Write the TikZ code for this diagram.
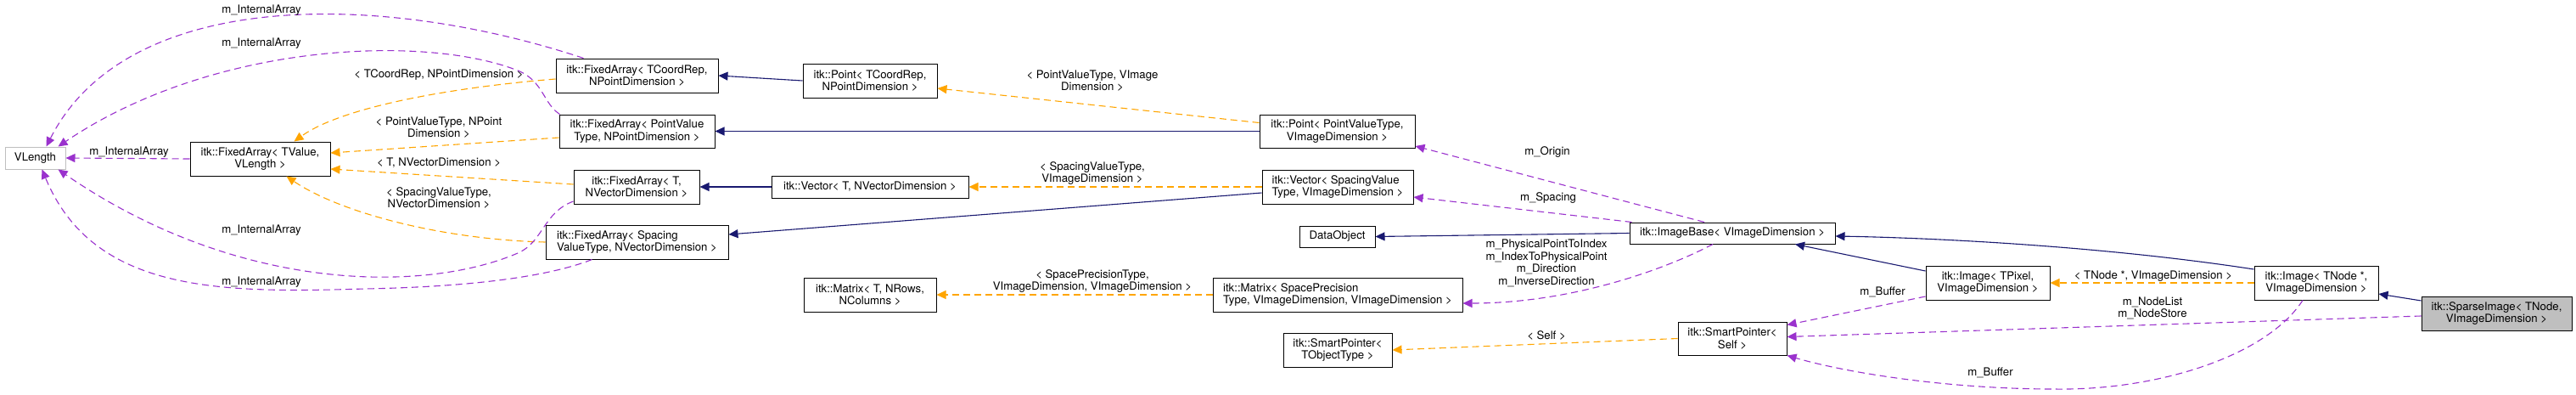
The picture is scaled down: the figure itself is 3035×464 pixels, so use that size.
\documentclass[tikz,border=0pt]{standalone}
\usepackage{fontspec}
\setmainfont{TeX Gyre Heros}
\usetikzlibrary{arrows.meta,calc}
\definecolor{member}{HTML}{9A32CD}
\definecolor{tmpl}{HTML}{FFA500}
\definecolor{inher}{HTML}{191970}
\definecolor{grayfill}{HTML}{BFBFBF}
\begin{document}
\begin{tikzpicture}[x=1pt,y=-1pt,
  cls/.style={draw=black, line width=1pt, fill=white, inner sep=0pt, align=center, font=\fontsize{13.2}{14.6}\selectfont},
  lbl/.style={inner sep=0pt, align=center, font=\fontsize{13.2}{14.6}\selectfont},
  tip/.style={-{Triangle[length=11pt,width=10pt]}},
  inh/.style={draw=inher, line width=1.1pt, tip},
  mem/.style={draw=member, line width=1.1pt, dash pattern=on 8pt off 5pt, tip},
  tpl/.style={draw=tmpl, line width=1.1pt, dash pattern=on 8pt off 5pt, tip}]
\useasboundingbox (0,0) rectangle (3035,464);
% classes
\node[cls, minimum width=71pt, minimum height=26pt, draw=grayfill] (vlen) at (41.5,186) {VLength};
\node[cls, minimum width=165pt, minimum height=40pt] (fatv) at (306.5,187) {itk::FixedArray< TValue,\\ VLength >};
\node[cls, minimum width=191pt, minimum height=40pt] (facr) at (750.5,89) {itk::FixedArray< TCoordRep,\\ NPointDimension >};
\node[cls, minimum width=183pt, minimum height=39pt] (fapv) at (750.5,154.5) {itk::FixedArray< PointValue\\ Type, NPointDimension >};
\node[cls, minimum width=148pt, minimum height=40pt] (fat) at (750,220) {itk::FixedArray< T,\\ NVectorDimension >};
\node[cls, minimum width=215pt, minimum height=40pt, align=left] (fasp) at (750.5,285) {itk::FixedArray< Spacing\\ValueType, NVectorDimension >};
\node[cls, minimum width=158pt, minimum height=40pt] (ptcr) at (1025,95) {itk::Point< TCoordRep,\\ NPointDimension >};
\node[cls, minimum width=232pt, minimum height=26pt] (vect) at (1025,220) {itk::Vector< T, NVectorDimension >};
\node[cls, minimum width=156pt, minimum height=40pt] (matt) at (1025,347) {itk::Matrix< T, NRows,\\ NColumns >};
\node[cls, minimum width=183pt, minimum height=39pt] (ptpv) at (1575.5,154.5) {itk::Point< PointValueType,\\ VImageDimension >};
\node[cls, minimum width=178pt, minimum height=40pt, align=left] (vecsv) at (1576,220) {itk::Vector< SpacingValue\\Type, VImageDimension >};
\node[cls, minimum width=89pt, minimum height=25pt] (dobj) at (1575.5,278.5) {DataObject};
\node[cls, minimum width=294pt, minimum height=40pt, align=left] (matsp) at (1576,347) {itk::Matrix< SpacePrecision\\Type, VImageDimension, VImageDimension >};
\node[cls, minimum width=128pt, minimum height=40pt] (sptto) at (1576,412) {itk::SmartPointer<\\ TObjectType >};
\node[cls, minimum width=242pt, minimum height=25pt] (ibase) at (2041,274.5) {itk::ImageBase< VImageDimension >};
\node[cls, minimum width=128pt, minimum height=39pt] (sptself) at (2041,398.5) {itk::SmartPointer<\\ Self >};
\node[cls, minimum width=146pt, minimum height=40pt] (imgpix) at (2342,333) {itk::Image< TPixel,\\ VImageDimension >};
\node[cls, minimum width=146pt, minimum height=40pt] (imgnode) at (2729,333) {itk::Image< TNode *,\\ VImageDimension >};
\node[cls, minimum width=177pt, minimum height=40pt, fill=grayfill] (sparse) at (2941.5,369) {itk::SparseImage< TNode,\\ VImageDimension >};
% inheritance
\draw[inh] (ptcr.west) -- (facr.east);
\draw[inh] (ptpv.west) -- (fapv.east);
\draw[inh] (vect.west) -- (fat.east);
\draw[inh] ($(vecsv.west)+(0,7)$) -- ($(fasp.east)+(0,-9)$);
\draw[inh] (ibase.west) -- (dobj.east);
\draw[inh] ($(imgpix.west)+(0,-14)$) -- ($(ibase.south)+(74,0)$);
\draw[inh] ($(imgnode.west)+(0,-16)$) .. controls (2480,290) and (2280,280) .. ($(ibase.east)+(0,3.5)$);
\draw[inh] ($(sparse.west)+(0,-15)$) -- ($(imgnode.east)+(0,13)$);
% template instantiation
\draw[tpl] ($(facr.west)+(0,4)$) .. controls (520,104) and (400,128) .. ($(fatv.north)+(40,0)$);
\draw[tpl] ($(fapv.west)+(0,7.5)$) -- ($(fatv.east)+(0,-7)$);
\draw[tpl] ($(fat.west)+(0,-3)$) -- ($(fatv.east)+(0,12)$);
\draw[tpl] (fasp.west) .. controls (520,282) and (400,250) .. ($(fatv.south)+(31,0)$);
\draw[tpl] ($(ptpv.west)+(0,-10)$) -- ($(ptcr.east)+(0,9)$);
\draw[tpl] (vecsv.west) -- (vect.east);
\draw[tpl] (matsp.west) -- (matt.east);
\draw[tpl] (sptself.west) -- (sptto.east);
\draw[tpl] (imgnode.west) -- (imgpix.east);
% members
\draw[mem] ($(facr.north)+(-63,0)$) .. controls (450,-10) and (150,-15) .. ($(vlen.north)+(13,0)$);
\draw[mem] ($(fapv.north west)+(1,0)$) .. controls (640,122) and (640,95) .. (610,83) .. controls (500,40) and (250,50) .. ($(vlen.north)+(27,0)$);
\draw[mem] (fatv.west) -- (vlen.east);
\draw[mem] ($(fat.west)+(0,17)$) .. controls (640,250) and (640,285) .. (610,298) .. controls (500,345) and (280,345) .. ($(vlen.south)+(27,0)$);
\draw[mem] ($(fasp.south)+(-53,0)$) .. controls (640,328) and (540,338) .. (430,340) .. controls (260,345) and (110,345) .. ($(vlen.south)+(8,0)$);
\draw[mem] ($(ibase.north)+(-33,0)$) -- ($(ptpv.east)+(0,17.5)$);
\draw[mem] ($(ibase.north west)+(3,0)$) -- ($(vecsv.east)+(0,12)$);
\draw[mem] ($(ibase.south)+(-23,0)$) .. controls (1960,318) and (1850,357) .. ($(matsp.east)+(0,10)$);
\draw[mem] ($(imgpix.west)+(0,16)$) -- ($(sptself.east)+(0,-16)$);
\draw[mem] ($(sparse.west)+(0,3)$) -- ($(sptself.east)+(0,-2)$);
\draw[mem] ($(imgnode.south)+(-16,0)$) .. controls (2670,420) and (2540,460) .. (2420,458) .. controls (2300,458) and (2180,440) .. (sptself.south east);
% labels
\node[lbl] (l1) at (308,12) {m\_InternalArray};
\node[lbl] (l2) at (308,51) {m\_InternalArray};
\node[lbl] (l3) at (152,179) {m\_InternalArray};
\node[lbl] (l4) at (308,271) {m\_InternalArray};
\node[lbl] (l5) at (308,332) {m\_InternalArray};
\node[lbl] (l6) at (517,88) {< TCoordRep, NPointDimension >};
\node[lbl] (l7) at (517,150) {< PointValueType, NPoint\\Dimension >};
\node[lbl] (l8) at (517,192) {< T, NVectorDimension >};
\node[lbl] (l9) at (517,233) {< SpacingValueType,\\NVectorDimension >};
\node[lbl] (l10) at (1287,95) {< PointValueType, VImage\\Dimension >};
\node[lbl] (l11) at (1287,204) {< SpacingValueType,\\VImageDimension >};
\node[lbl] (l12) at (1287,331) {< SpacePrecisionType,\\VImageDimension, VImageDimension >};
\node[lbl] (l13) at (1823,179) {m\_Origin};
\node[lbl] (l14) at (1824,233) {m\_Spacing};
\node[lbl] (l15) at (1822,310) {m\_PhysicalPointToIndex\\m\_IndexToPhysicalPoint\\m\_Direction\\m\_InverseDirection};
\node[lbl] (l16) at (1822,395) {< Self >};
\node[lbl] (l17) at (2218,344) {m\_Buffer};
\node[lbl] (l18) at (2537,325) {< TNode *, VImageDimension >};
\node[lbl] (l19) at (2536,363) {m\_NodeList\\m\_NodeStore};
\node[lbl] (l20) at (2345,439) {m\_Buffer};
\end{tikzpicture}
\end{document}
